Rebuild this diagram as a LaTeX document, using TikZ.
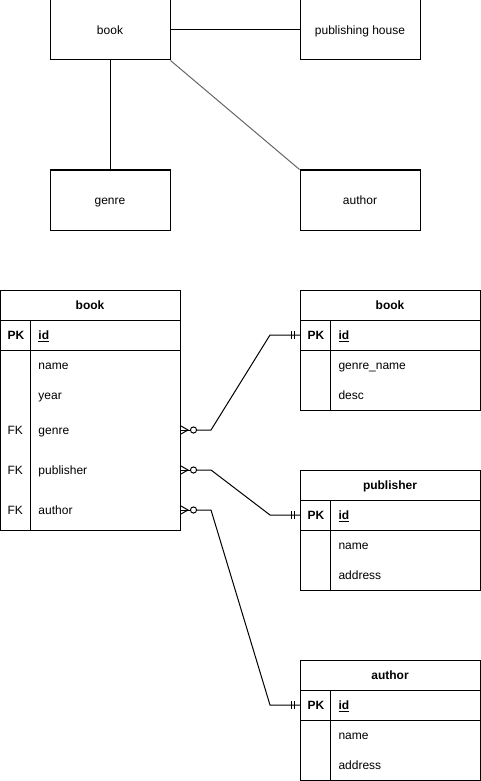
\documentclass[tikz,border=0pt]{standalone}
\usepackage{fontspec}
\setmainfont{Liberation Sans}
\usetikzlibrary{calc}
\begin{document}
\begin{tikzpicture}[x=0.75pt,y=-0.75pt,line width=0.75pt,
  font=\fontsize{9}{11}\selectfont,
  ent/.style={draw,minimum width=90pt,minimum height=45pt,inner sep=0pt,text height=6.5pt,text depth=0pt},
  tbl/.style={draw,minimum width=135pt,inner sep=0pt,anchor=north west},
  hdr/.style={font=\fontsize{9}{11}\selectfont\bfseries,inner sep=0pt,text height=6.5pt,text depth=0pt},
  attr/.style={anchor=west,inner sep=0pt,text height=6.5pt,text depth=0pt},
  key/.style={anchor=west,inner sep=0pt,text height=6.5pt,text depth=0pt},
  bkey/.style={key,font=\fontsize{9}{11}\selectfont\bfseries},
  rel/.style={line width=0.75pt}]
\useasboundingbox (0,0) rectangle (481,781);

% top conceptual diagram
\node[ent] (book) at (110,30) {book};
\node[ent] (pub) at (360,30) {publishing house};
\node[ent] (genre) at (110,200) {genre};
\node[ent] (auth) at (360,200) {author};
\draw (book.east) -- (pub.west);
\draw (book.south) -- (genre.north);
\draw[draw=black!60] (book.south east) -- (auth.north west);

% left table book
\node[tbl,minimum height=180pt] (tb) at (0,290) {};
\node[hdr] (tbh) at (90,305) {book};
\draw (0,320) -- (180,320);
\draw (0,350) -- (180,350);
\draw (30,320) -- (30,530);
\node[bkey] (tbpk) at (7,335) {PK};
\node[bkey] (tbid) at (38,335) {\underline{id}};
\node[attr] (tbname) at (38,365) {name};
\node[attr] (tbyear) at (38,395) {year};
\node[key] (tbfk1) at (7,430) {FK};
\node[attr] (tbgenre) at (38,430) {genre};
\node[key] (tbfk2) at (7,470) {FK};
\node[attr] (tbpub) at (38,470) {publisher};
\node[key] (tbfk3) at (7,510) {FK};
\node[attr] (tbauth) at (38,510) {author};

% right table book (genre)
\node[tbl,minimum height=90pt] (tg) at (300,290) {};
\node[hdr] (tgh) at (390,305) {book};
\draw (300,320) -- (480,320);
\draw (300,350) -- (480,350);
\draw (330,320) -- (330,410);
\node[bkey] (tgpk) at (307,335) {PK};
\node[bkey] (tgid) at (338,335) {\underline{id}};
\node[attr] (tgname) at (338,365) {genre\_name};
\node[attr] (tgdesc) at (338,395) {desc};

% publisher table
\node[tbl,minimum height=90pt] (tp) at (300,470) {};
\node[hdr] (tph) at (390,485) {publisher};
\draw (300,500) -- (480,500);
\draw (300,530) -- (480,530);
\draw (330,500) -- (330,590);
\node[bkey] (tppk) at (307,515) {PK};
\node[bkey] (tpid) at (338,515) {\underline{id}};
\node[attr] (tpname) at (338,545) {name};
\node[attr] (tpaddr) at (338,575) {address};

% author table
\node[tbl,minimum height=90pt] (ta) at (300,660) {};
\node[hdr] (tah) at (390,675) {author};
\draw (300,690) -- (480,690);
\draw (300,720) -- (480,720);
\draw (330,690) -- (330,780);
\node[bkey] (tapk) at (307,705) {PK};
\node[bkey] (taid) at (338,705) {\underline{id}};
\node[attr] (taname) at (338,735) {name};
\node[attr] (taaddr) at (338,765) {address};

% relations: zero-to-many (left) to exactly one (right)
\foreach \src/\dst in {tbgenre/tgid, tbpub/tpid, tbauth/taid}{
  \coordinate (s) at (tb.east |- \src);
  \coordinate (d) at (tg.west |- \dst);
  \draw[rel] (s) ++(0,-4) -- ++(7,4) -- ++(-7,4);
  \draw[rel] (s) -- ++(9,0);
  \draw[rel] (s) ++(12.5,0) circle[radius=2.3pt];
  \draw[rel] (s) ++(15.5,0) -- ++(14.5,0) -- ($(d)+(-30,0)$) -- (d);
  \draw[rel] (d) ++(-9,-4) -- ++(0,8);
  \draw[rel] (d) ++(-6,-4) -- ++(0,8);
}
\end{tikzpicture}
\end{document}
